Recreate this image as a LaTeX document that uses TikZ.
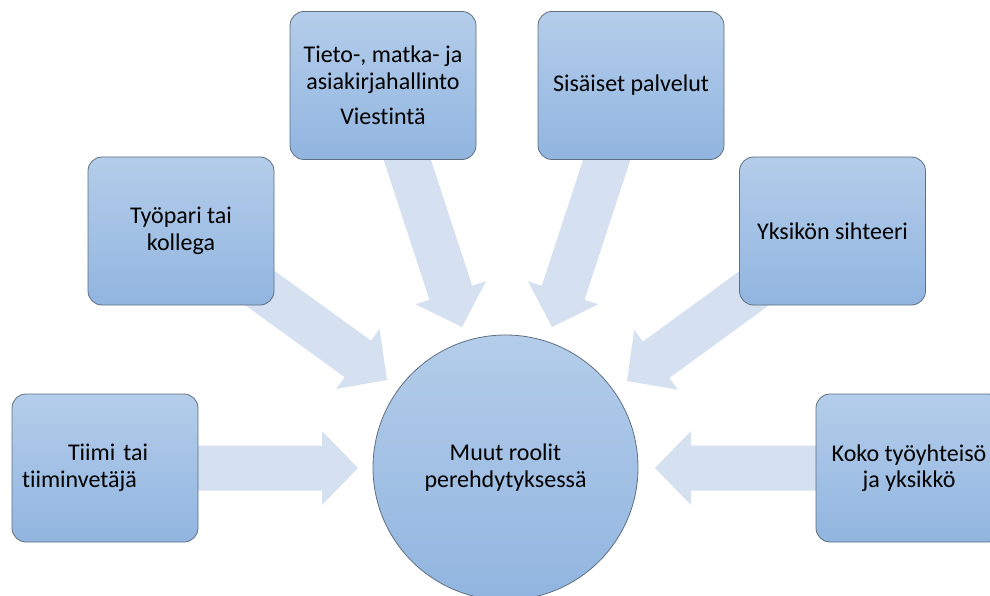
\documentclass[tikz,border=0pt]{standalone}
\usepackage{fontspec}
\setmainfont{Carlito}[Ligatures=NoCommon]
\usetikzlibrary{calc}
\pgfdeclarelayer{background}
\pgfsetlayers{background,main}
\definecolor{boxtop}{HTML}{B4CDEA}
\definecolor{boxbot}{HTML}{91B5E0}
\definecolor{edgegray}{HTML}{5F6F80}
\definecolor{arrowfill}{HTML}{D5E1F1}
\newcommand\rolefont{\fontsize{24}{26.5}\selectfont}
\tikzset{
  rolebox/.style={draw=edgegray, line width=0.8pt, rounded corners=14pt,
    top color=boxtop, bottom color=boxbot, minimum width=186pt,
    minimum height=148pt, inner sep=0pt, font=\rolefont, align=center, text=black},
  hub/.style={circle, draw=edgegray, line width=0.8pt, top color=boxtop,
    bottom color=boxbot, minimum size=265pt, inner sep=0pt, font=\rolefont,
    align=center, text=black},
  blockfill/.style={fill=arrowfill}
}
\newcommand\blockarrow[2]{%
  \coordinate (#2-hb) at ($(#2)!36pt!(#1)$);
  \fill[blockfill] ($(#1)!22.5pt!90:(#2)$) -- ($(#2-hb)!22.5pt!90:(#2)$)
    -- ($(#2-hb)!37pt!90:(#2)$) -- (#2) -- ($(#2-hb)!37pt!-90:(#2)$)
    -- ($(#2-hb)!22.5pt!-90:(#2)$) -- ($(#1)!22.5pt!-90:(#2)$) -- cycle;}
\begin{document}
\begin{tikzpicture}[x=1pt,y=-1pt]
  \clip (0,0) rectangle (990,596);
  % boxes
  \node[rolebox, text width=166pt, align=left] (tiimi) at (105,468)
    {\hspace*{46pt}Tiimi tai\\tiiminvetäjä};
  \node[rolebox] (tyopari) at (181,231) {Työpari tai\\kollega};
  \node[rolebox] (tieto) at (383,85.5) {Tieto-, matka- ja\\asiakirjahallinto\\[9pt]Viestintä};
  \node[rolebox] (sisaiset) at (631,85.5) {Sisäiset palvelut};
  \node[rolebox] (yksikon) at (832.5,231) {Yksikön sihteeri};
  \node[rolebox] (koko) at (909,468) {Koko työyhteisö\\ja yksikkö};
  \node[hub] (hubnode) at (505.5,467.5) {Muut roolit\\perehdytyksessä};
  % arrow tips
  \coordinate (t1) at (358,468);
  \coordinate (t2) at (387,380);
  \coordinate (t3) at (462,327);
  \coordinate (t4) at (552,327);
  \coordinate (t5) at (627,381);
  \coordinate (t6) at (655,468);
  \begin{pgfonlayer}{background}
    \fill[white] (0,0) rectangle (990,596);
    \blockarrow{tiimi}{t1}
    \blockarrow{tyopari}{t2}
    \blockarrow{tieto}{t3}
    \blockarrow{sisaiset}{t4}
    \blockarrow{yksikon}{t5}
    \blockarrow{koko}{t6}
  \end{pgfonlayer}
\end{tikzpicture}
\end{document}
